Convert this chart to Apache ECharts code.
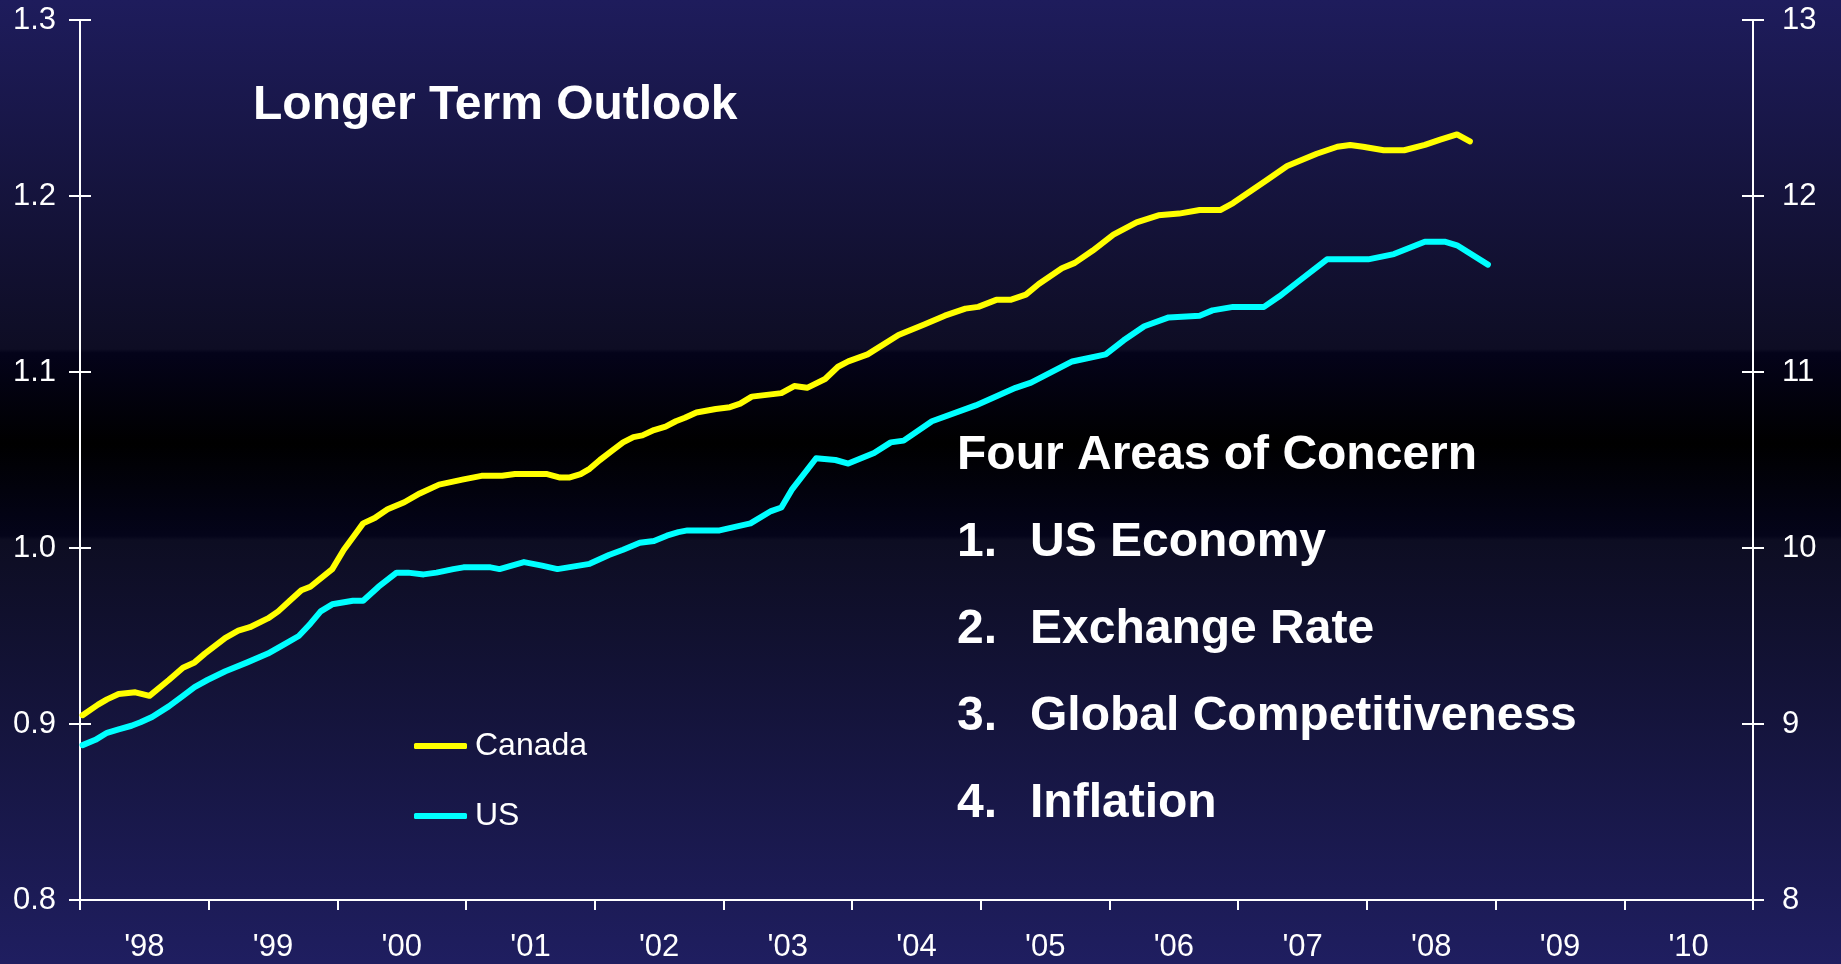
<!DOCTYPE html>
<html>
<head>
<meta charset="utf-8">
<title>Longer Term Outlook</title>
<script src="https://cdn.jsdelivr.net/npm/echarts@6/dist/echarts.min.js"></script>
<style>
  html, body { margin: 0; padding: 0; }
  #chart { width: 1841px; height: 964px; }
</style>
</head>
<body>
<div id="chart"></div>
<script>
// year labels, ticks sit between them
const yearLabels = ["'98", "'99", "'00", "'01", "'02", "'03", "'04", "'05", "'06", "'07", "'08", "'09", "'10"];

// Canada (decimal year, value)
const canadaDates = [
  1998.02, 1998.14, 1998.21, 1998.30, 1998.43, 1998.54, 1998.69, 1998.80, 1998.89, 1998.97,
  1999.13, 1999.23, 1999.32, 1999.46, 1999.54, 1999.63, 1999.72, 1999.79, 1999.96,
  2000.05, 2000.13, 2000.20, 2000.29, 2000.39, 2000.52, 2000.64, 2000.79, 2000.98,
  2001.12, 2001.28, 2001.38, 2001.63, 2001.73, 2001.80, 2001.89, 2001.96,
  2002.04, 2002.13, 2002.22, 2002.30, 2002.37, 2002.46, 2002.55, 2002.63, 2002.70, 2002.79, 2002.94,
  2003.05, 2003.13, 2003.22, 2003.45, 2003.55, 2003.65, 2003.79, 2003.89, 2003.97,
  2004.12, 2004.36, 2004.56, 2004.72, 2004.88, 2004.98,
  2005.12, 2005.23, 2005.35, 2005.45, 2005.63, 2005.73, 2005.87,
  2006.03, 2006.21, 2006.38, 2006.54, 2006.70, 2006.86, 2006.96,
  2007.10, 2007.22, 2007.38, 2007.61, 2007.77, 2007.87, 2007.97,
  2008.13, 2008.29, 2008.45, 2008.57, 2008.70, 2008.80
];
const canadaValues = [
  0.905, 0.911, 0.914, 0.917, 0.918, 0.916, 0.925, 0.932, 0.935, 0.940,
  0.949, 0.953, 0.955, 0.960, 0.964, 0.970, 0.976, 0.978, 0.988,
  0.999, 1.007, 1.014, 1.017, 1.022, 1.026, 1.031, 1.036, 1.039,
  1.041, 1.041, 1.042, 1.042, 1.040, 1.040, 1.042, 1.045,
  1.050, 1.055, 1.060, 1.063, 1.064, 1.067, 1.069, 1.072, 1.074, 1.077, 1.079,
  1.080, 1.082, 1.086, 1.088, 1.092, 1.091, 1.096, 1.103, 1.106,
  1.110, 1.121, 1.127, 1.132, 1.136, 1.137,
  1.141, 1.141, 1.144, 1.150, 1.159, 1.162, 1.169,
  1.178, 1.185, 1.189, 1.190, 1.192, 1.192, 1.196,
  1.203, 1.209, 1.217, 1.224, 1.228, 1.229, 1.228,
  1.226, 1.226, 1.229, 1.232, 1.235, 1.231
];

// US
const usDates = [
  1998.02, 1998.12, 1998.21, 1998.30, 1998.40, 1998.47, 1998.56, 1998.69, 1998.80, 1998.89, 1998.99,
  1999.13, 1999.30, 1999.46, 1999.58, 1999.70, 1999.79, 1999.87, 1999.96,
  2000.12, 2000.20, 2000.32, 2000.46, 2000.55, 2000.67, 2000.77, 2000.90, 2000.98,
  2001.19, 2001.26, 2001.45, 2001.59, 2001.71, 2001.96,
  2002.11, 2002.22, 2002.35, 2002.46, 2002.56, 2002.65, 2002.72, 2002.97,
  2003.21, 2003.37, 2003.45, 2003.53, 2003.72, 2003.87, 2003.97,
  2004.17, 2004.30, 2004.40, 2004.62, 2004.96,
  2005.27, 2005.39, 2005.71, 2005.97,
  2006.11, 2006.27, 2006.46, 2006.70, 2006.80, 2006.96,
  2007.20, 2007.32, 2007.46, 2007.69,
  2008.01, 2008.21, 2008.45, 2008.61, 2008.70, 2008.94
];
const usValues = [
  0.888, 0.891, 0.895, 0.897, 0.899, 0.901, 0.904, 0.910, 0.916, 0.921, 0.925,
  0.930, 0.935, 0.940, 0.945, 0.950, 0.957, 0.964, 0.968,
  0.970, 0.970, 0.978, 0.986, 0.986, 0.985, 0.986, 0.988, 0.989,
  0.989, 0.988, 0.992, 0.990, 0.988, 0.991,
  0.996, 0.999, 1.003, 1.004, 1.007, 1.009, 1.010, 1.010,
  1.014, 1.021, 1.023, 1.033, 1.051, 1.050, 1.048,
  1.054, 1.060, 1.061, 1.072, 1.081,
  1.091, 1.094, 1.106, 1.110,
  1.118, 1.126, 1.131, 1.132, 1.135, 1.137,
  1.137, 1.143, 1.151, 1.164,
  1.164, 1.167, 1.174, 1.174, 1.172, 1.161
];

const concerns = ["Four Areas of Concern", "US Economy", "Exchange Rate", "Global Competitiveness", "Inflation"];

const font = "'Liberation Sans', Arial, sans-serif";
const white = "#ffffff";

const zip = (xs, ys) => xs.map((x, i) => [x, ys[i]]);

const chart = echarts.init(document.getElementById("chart"));

// crossing ticks: one axis for the outer half, one for the inner half
const yAxisBase = (pos, min, max, interval, inside, labels) => ({
  type: "value",
  position: pos,
  min: min,
  max: max,
  interval: interval,
  splitLine: { show: false },
  axisLine: { show: !inside, lineStyle: { color: white, width: 2 } },
  axisTick: { show: true, inside: inside, length: 11, lineStyle: { color: white, width: 2 } },
  axisLabel: labels
});

// text block on the right
const bigFont = "bold 48px " + font;
const textItems = [];
textItems.push({
  type: "text", left: 253, top: 82,
  style: { text: "Longer Term Outlook", font: bigFont, fill: white }
});
concerns.forEach((t, i) => {
  const top = 432 + i * 87;
  if (i === 0) {
    textItems.push({ type: "text", left: 957, top: top, style: { text: t, font: bigFont, fill: white } });
  } else {
    textItems.push({ type: "text", left: 957, top: top, style: { text: i + ".", font: bigFont, fill: white } });
    textItems.push({ type: "text", left: 1030, top: top, style: { text: t, font: bigFont, fill: white } });
  }
});

chart.setOption({
  animation: false,
  backgroundColor: new echarts.graphic.LinearGradient(0, 0, 0, 1, [
    { offset: 0, color: "#1e1c5c" },
    { offset: 0.362, color: "#0e0d24" },
    { offset: 0.366, color: "#04031a" },
    { offset: 0.46, color: "#000000" },
    { offset: 0.556, color: "#04041a" },
    { offset: 0.56, color: "#0d0d22" },
    { offset: 1, color: "#1f1e60" }
  ]),
  grid: { left: 80, right: 88, top: 20, bottom: 64, containLabel: false },
  legend: {
    orient: "vertical",
    left: 414,
    top: 730,
    padding: 0,
    itemGap: 38,
    itemWidth: 53,
    itemHeight: 6,
    icon: "roundRect",
    textStyle: { color: white, fontSize: 32, fontFamily: font, padding: [0, 0, 0, 3] },
    data: ["Canada", "US"]
  },
  xAxis: [
    {
      type: "category",
      data: yearLabels,
      boundaryGap: true,
      axisLine: { lineStyle: { color: white, width: 2 } },
      axisTick: { show: true, length: 10, alignWithLabel: false, lineStyle: { color: white, width: 2 } },
      axisLabel: { color: white, fontSize: 31, fontFamily: font, margin: 32 },
      splitLine: { show: false }
    },
    {
      type: "value",
      min: 1998,
      max: 2011,
      show: false
    }
  ],
  yAxis: [
    yAxisBase("left", 0.8, 1.3, 0.1, false, {
      color: white, fontSize: 31, fontFamily: font, margin: 24,
      formatter: v => v.toFixed(1)
    }),
    yAxisBase("left", 0.8, 1.3, 0.1, true, { show: false }),
    yAxisBase("right", 8, 13, 1, false, {
      color: white, fontSize: 31, fontFamily: font, margin: 29
    }),
    yAxisBase("right", 8, 13, 1, true, { show: false })
  ],
  graphic: textItems,
  series: [
    {
      name: "Canada",
      type: "line",
      xAxisIndex: 1,
      yAxisIndex: 0,
      showSymbol: false,
      color: "#ffff00",
      lineStyle: { width: 6, color: "#ffff00", cap: "round", join: "round" },
      data: zip(canadaDates, canadaValues)
    },
    {
      name: "US",
      type: "line",
      xAxisIndex: 1,
      yAxisIndex: 0,
      showSymbol: false,
      color: "#00ffff",
      lineStyle: { width: 6, color: "#00ffff", cap: "round", join: "round" },
      data: zip(usDates, usValues)
    }
  ]
});
</script>
</body>
</html>
